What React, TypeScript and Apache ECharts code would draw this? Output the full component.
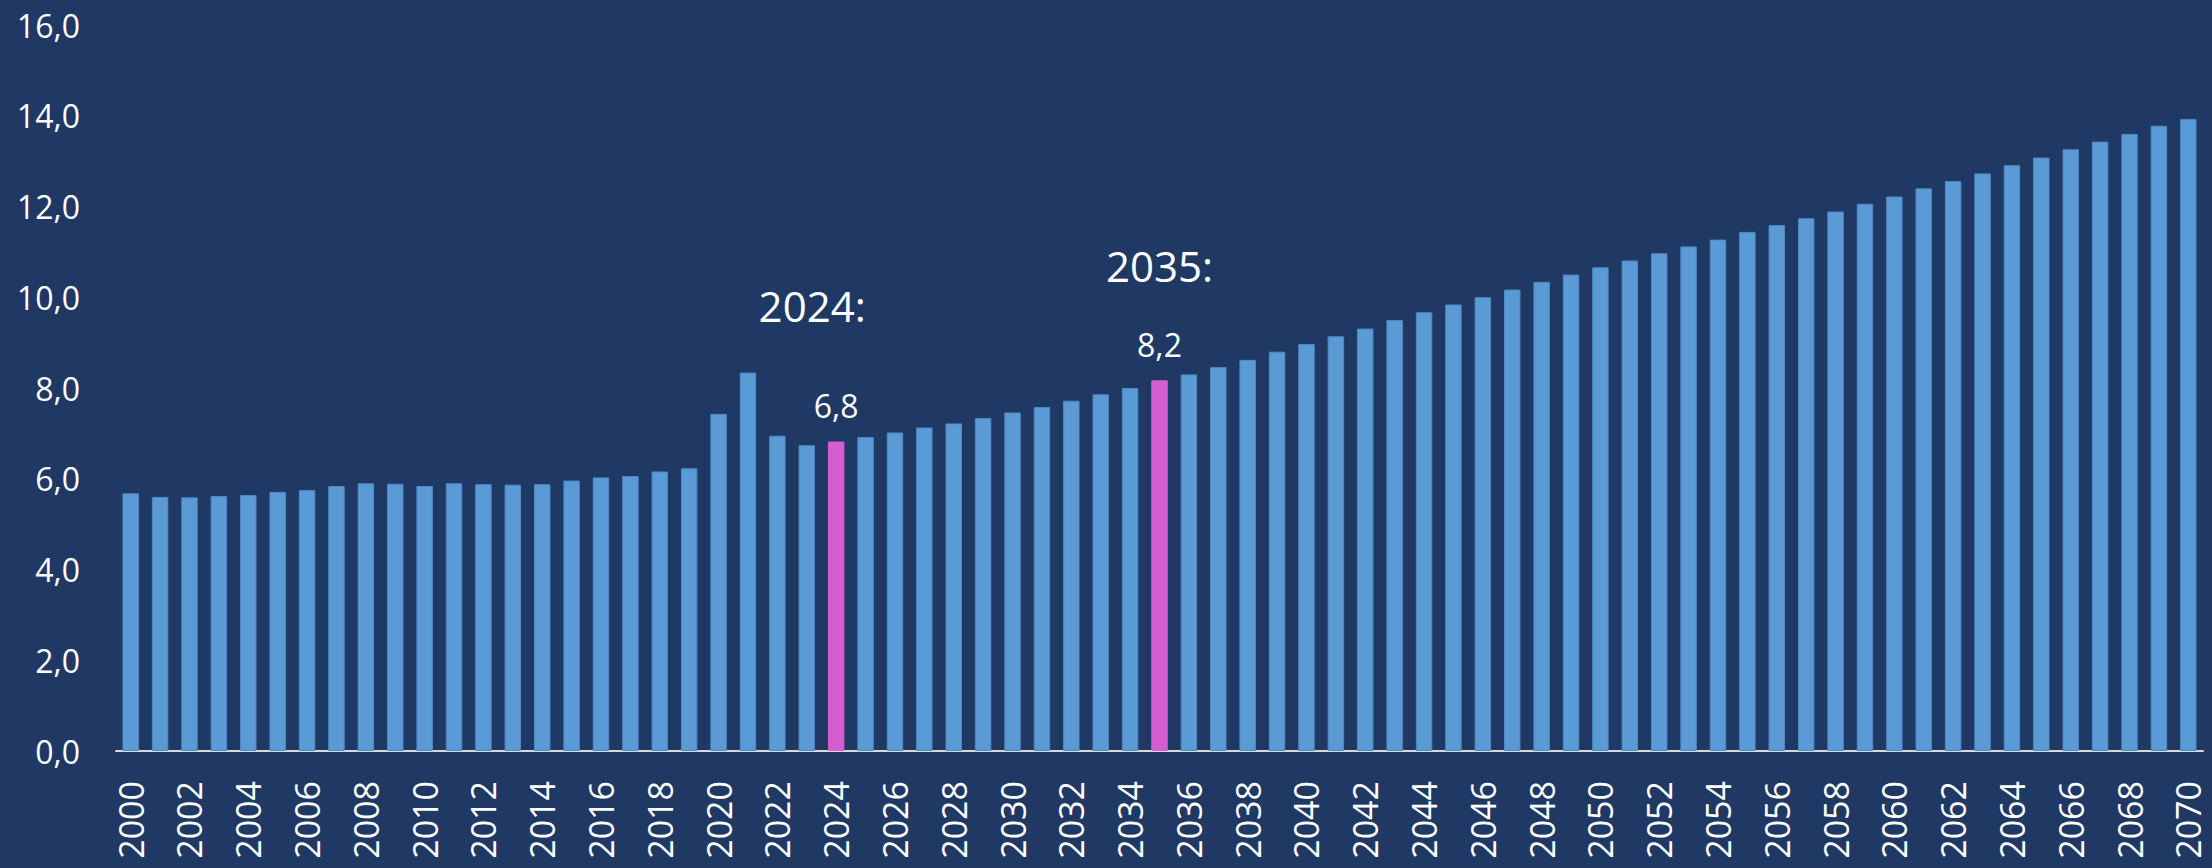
import React, { useEffect, useRef } from "react";
import * as echarts from "echarts";

const years: string[] = Array.from({ length: 71 }, (_, i) => String(2000 + i));

const values: number[] = [
  5.68, 5.60, 5.59, 5.62, 5.64, 5.71, 5.75, 5.84, 5.90, 5.89,
  5.84, 5.90, 5.88, 5.87, 5.88, 5.96, 6.03, 6.06, 6.16, 6.23,
  7.43, 8.34, 6.95, 6.74, 6.82, 6.92, 7.02, 7.13, 7.22, 7.34,
  7.46, 7.58, 7.72, 7.86, 8.00, 8.17, 8.30, 8.46, 8.62, 8.80,
  8.97, 9.14, 9.31, 9.50, 9.67, 9.84, 10.00, 10.17, 10.34, 10.50,
  10.66, 10.81, 10.97, 11.12, 11.27, 11.44, 11.59, 11.74, 11.89, 12.06,
  12.22, 12.40, 12.56, 12.73, 12.91, 13.08, 13.26, 13.43, 13.60, 13.78,
  13.93,
];

const highlightYears: string[] = ["2024", "2035"];
const annotationTexts: string[] = ["2024:", "2035:"];
const annotationOffsets: number[][] = [
  [-24, -136],
  [0, -115],
];

const BG = "#203864";
const BAR = "#5B9BD5";
const HIGHLIGHT = "#D35ED2";
const FONT = "'Open Sans', 'Noto Sans', sans-serif";

const fmt = (v: number) => v.toFixed(1).replace(".", ",");

export default function App() {
  const ref = useRef<HTMLDivElement>(null);

  useEffect(() => {
    if (!ref.current) return;
    const chart = echarts.init(ref.current, undefined, { renderer: "svg" });

    const data = years.map((y, i) => {
      const hi = highlightYears.includes(y);
      if (!hi) return values[i];
      return {
        value: values[i],
        itemStyle: { color: HIGHLIGHT, borderColor: HIGHLIGHT },
        label: {
          show: true,
          position: "top",
          distance: 20,
          formatter: (p: any) => fmt(p.value),
          color: "#ffffff",
          fontSize: 32,
          fontFamily: FONT,
        },
      };
    });

    const markData = highlightYears.map((y, k) => ({
      name: y,
      coord: [y, values[years.indexOf(y)]],
      symbol: "rect",
      symbolSize: 0,
      label: {
        show: true,
        position: "inside",
        formatter: annotationTexts[k],
        offset: annotationOffsets[k],
        color: "#ffffff",
        fontSize: 42,
        fontFamily: FONT,
      },
    }));

    chart.setOption({
      animation: false,
      backgroundColor: BG,
      textStyle: { fontFamily: FONT },
      grid: { left: 116, right: 9, top: 25, bottom: 117, containLabel: false },
      xAxis: {
        type: "category",
        data: years,
        boundaryGap: true,
        axisLine: { show: true, lineStyle: { color: "#D9D9D9", width: 2 } },
        axisTick: { show: false },
        axisLabel: {
          interval: 1,
          rotate: 90,
          margin: 30,
          color: "#ffffff",
          fontSize: 34,
          lineHeight: 26,
          fontFamily: FONT,
        },
        splitLine: { show: false },
      },
      yAxis: {
        type: "value",
        min: 0,
        max: 16,
        interval: 2,
        axisLine: { show: false },
        axisTick: { show: false },
        splitLine: { show: false },
        axisLabel: {
          margin: 36,
          color: "#ffffff",
          fontSize: 32,
          fontFamily: FONT,
          formatter: (v: number) => fmt(v),
        },
      },
      series: [
        {
          type: "bar",
          data,
          barWidth: "56%",
          itemStyle: { color: BAR, borderColor: "#4F89C2", borderWidth: 1 },
          markPoint: {
            silent: true,
            data: markData,
          },
        },
      ],
    });

    return () => chart.dispose();
  }, []);

  return (
    <div
      ref={ref}
      style={{
        position: "fixed",
        left: 0,
        top: 0,
        width: 2212,
        height: 868,
        background: BG,
      }}
    />
  );
}
